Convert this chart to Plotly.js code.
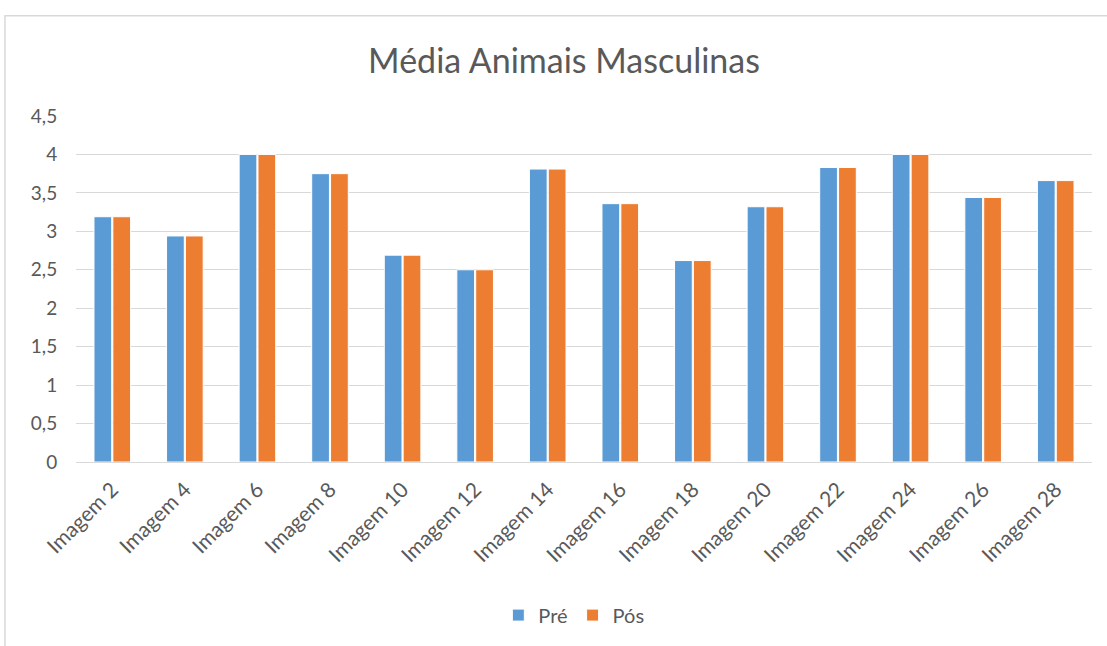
<!DOCTYPE html>
<html>
<head>
<meta charset="utf-8">
<script src="https://cdn.plot.ly/plotly-3.0.1.min.js"></script>
<style>body{margin:0;background:#fff}#chart{width:1107px;height:646px}</style>
</head>
<body>
<div id="chart"></div>
<script>
const categories = ["Imagem 2","Imagem 4","Imagem 6","Imagem 8","Imagem 10","Imagem 12","Imagem 14","Imagem 16","Imagem 18","Imagem 20","Imagem 22","Imagem 24","Imagem 26","Imagem 28"];
const pre = [3.19,2.94,4.0,3.75,2.69,2.50,3.81,3.36,2.62,3.32,3.83,4.0,3.44,3.66];
const pos = [3.19,2.94,4.0,3.75,2.69,2.50,3.81,3.36,2.62,3.32,3.83,4.0,3.44,3.66];
const yTicks = [0,0.5,1,1.5,2,2.5,3,3.5,4,4.5];
const yTickText = ["0","0,5","1","1,5","2","2,5","3","3,5","4","4,5"];

const font = "Lato, 'Open Sans', sans-serif";
const traces = [
  {type:"bar", name:"Pré", x:categories, y:pre, marker:{color:"#5b9bd5", line:{color:"#ffffff", width:1}}},
  {type:"bar", name:"Pós", x:categories, y:pos, marker:{color:"#ed7d31", line:{color:"#ffffff", width:1}}}
];
const layout = {
  width:1107, height:646,
  margin:{l:76, r:15, t:116, b:182},
  paper_bgcolor:"#ffffff", plot_bgcolor:"#ffffff",
  font:{family:font, color:"#595959", size:18},
  title:{text:"Média Animais Masculinas", font:{family:font, size:34, color:"#595959"}, x:0.5095, xanchor:"center", y:0.905, yanchor:"middle"},
  barmode:"group", bargap:0.48, bargroupgap:0.06,
  showlegend:true,
  legend:{orientation:"h", x:0.49, xanchor:"center", y:-0.4425, yanchor:"middle", font:{size:20, color:"#595959"}, itemwidth:30},
  xaxis:{type:"category", tickangle:-45, ticks:"outside", ticklen:6, tickcolor:"rgba(0,0,0,0)", showgrid:false, showline:true, linecolor:"#d9d9d9", linewidth:1, tickfont:{size:21, color:"#595959"}},
  yaxis:{range:[0,4.5], tickvals:yTicks, ticktext:yTickText, showgrid:true, gridcolor:"#d9d9d9", gridwidth:1, zeroline:false, showline:false, ticks:"outside", ticklen:14, tickcolor:"rgba(0,0,0,0)", tickfont:{size:19, color:"#595959"}},
  shapes:[{type:"rect", xref:"paper", yref:"paper", x0:-0.0699, x1:1.2, y0:-0.7, y1:1.29, line:{color:"#d9d9d9", width:1.5}, fillcolor:"rgba(0,0,0,0)", layer:"below"}]
};
Plotly.newPlot("chart", traces, layout, {displayModeBar:false, staticPlot:true});
</script>
</body>
</html>
